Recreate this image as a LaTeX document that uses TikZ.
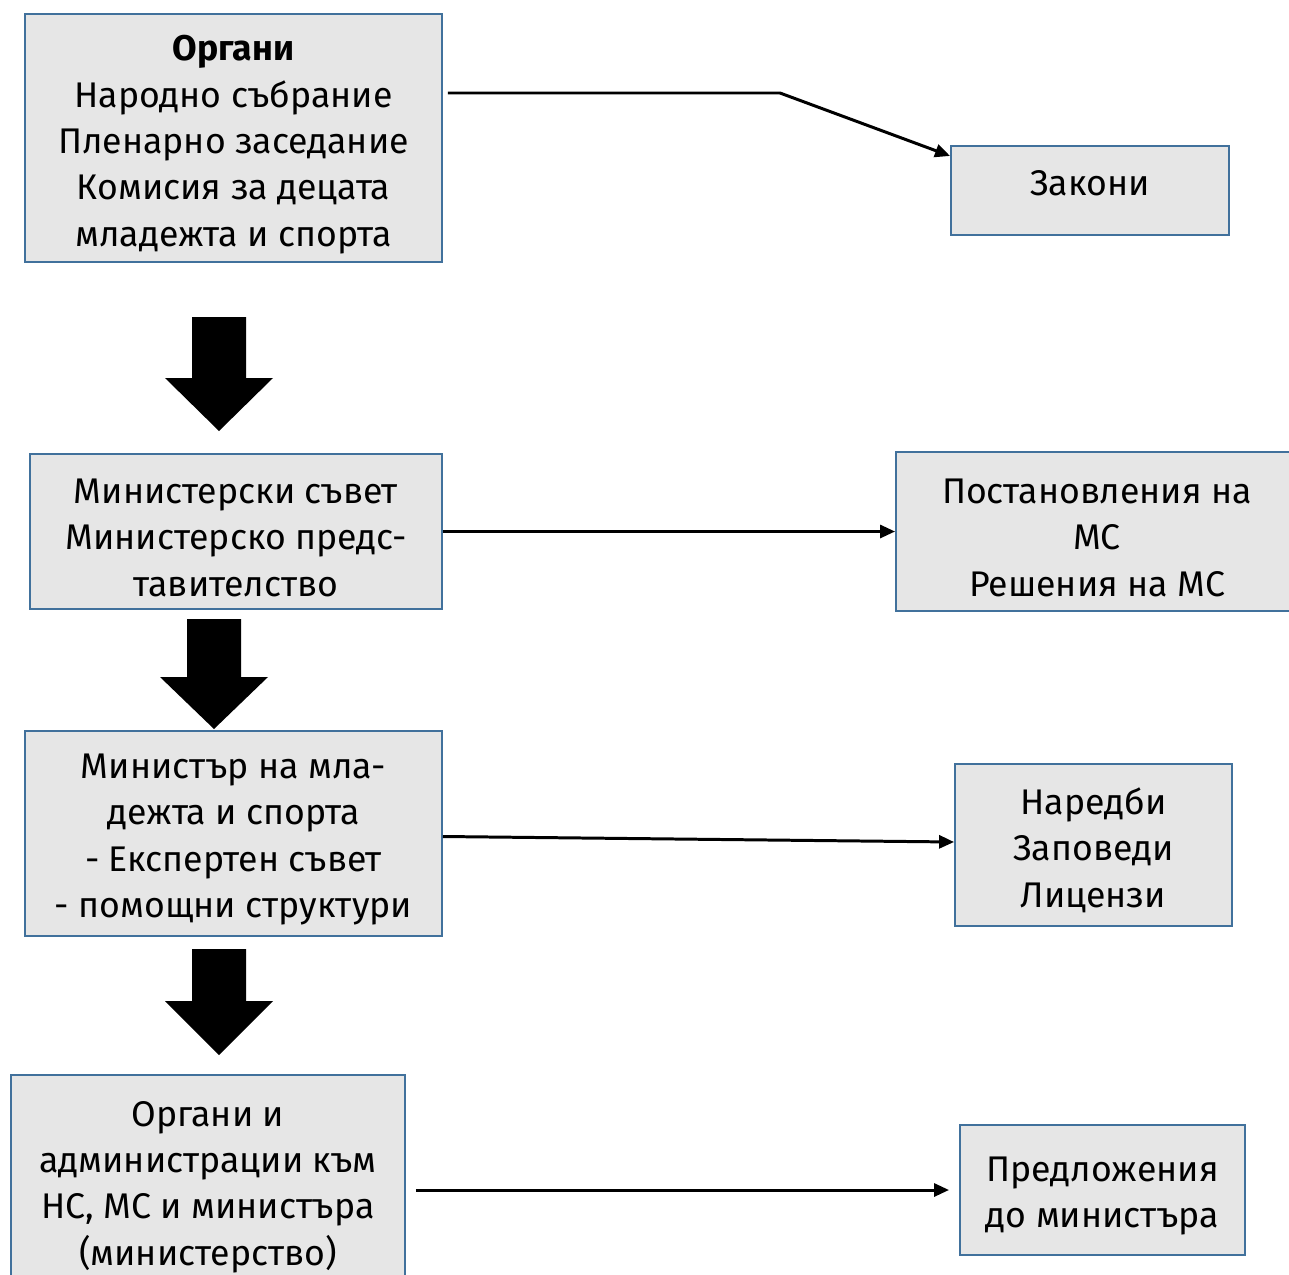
\documentclass[tikz,border=0pt]{standalone}
\usepackage{fontspec}
\setmainfont{Fira Sans}
\usetikzlibrary{arrows.meta,calc}
\definecolor{boxfill}{HTML}{E6E6E6}
\definecolor{boxline}{HTML}{41719C}
\newcommand{\gore}{\rule{0pt}{21pt}}
\tikzset{
	kutiya/.style={draw=boxline,line width=1.1pt,fill=boxfill,align=center,inner sep=0pt,
		font=\fontsize{20.3pt}{26.4pt}\selectfont},
	vruzka/.style={line width=1.7pt,-{Triangle[length=0.3cm,width=0.26cm]}},
}
\begin{document}
\begin{tikzpicture}[x=0.02cm,y=-0.02cm]
		\useasboundingbox (0,0) rectangle (1289,1275);
		\begin{scope}
			% left column
			\node[kutiya,minimum width=8.34cm,minimum height=4.96cm] (organi) at (233.5,138)
				{\rule{0pt}{22pt}{\bfseries Органи}\\Народно събрание\\Пленарно заседание\\Комисия за децата\\младежта и спорта};
			\node[kutiya,minimum width=8.24cm,minimum height=3.10cm] (ms) at (236,531.5)
				{\gore Министерски съвет\\Министерско предс-\\тавителство};
			\node[kutiya,minimum width=8.34cm,minimum height=4.10cm] (ministar) at (233.5,833.5)
				{\gore Министър на мла-\\дежта и спорта\\- Експертен съвет\\- помощни структури};
			\node[kutiya,minimum width=7.88cm,minimum height=4.24cm] (administracii) at (208,1181)
				{\gore Органи и\\администрации към\\НС, МС и министъра\\(министерство)};
			% right column
			\node[kutiya,minimum width=5.56cm,minimum height=1.78cm] (zakoni) at (1090,190.5)
				{\rule[-8.9pt]{0pt}{21pt}Закони};
			\node[kutiya,minimum width=8.04cm,minimum height=3.18cm] (postanovleniya) at (1097,531.5)
				{\gore Постановления на\\МС\\Решения на МС};
			\node[kutiya,minimum width=5.54cm,minimum height=3.24cm] (naredbi) at (1093.5,845)
				{\gore Наредби\\Заповеди\\Лицензи};
			\node[kutiya,minimum width=5.70cm,minimum height=2.60cm] (predlozheniya) at (1102.5,1190)
				{\gore Предложения\\до министъра};
		\end{scope}
		% block arrows between the levels
		\foreach \x/\top/\neck/\tip in {219/317/378/431, 214/619/677/729, 219/949/1001/1055}
		{
			\fill (\x-27,\top) -- (\x+27,\top) -- (\x+27,\neck) -- (\x+54,\neck) -- (\x,\tip)
				-- (\x-54,\neck) -- (\x-27,\neck) -- cycle;
		}
		% connectors
		\coordinate (lom) at (780,93);
		\draw[vruzka] ($(organi.east |- lom)+(5,0)$) -- (lom) -- ($(zakoni.north west)!0.12!(zakoni.south west)$);
		\draw[vruzka] (ms.east) -- (postanovleniya.west);
		\draw[vruzka] ($(ministar.east)+(0,3)$) -- ($(naredbi.west)+(0,-3)$);
		\draw[vruzka,shorten <=5.7pt,shorten >=5.7pt] (administracii.east |- predlozheniya.west) -- (predlozheniya.west);
\end{tikzpicture}
\end{document}
